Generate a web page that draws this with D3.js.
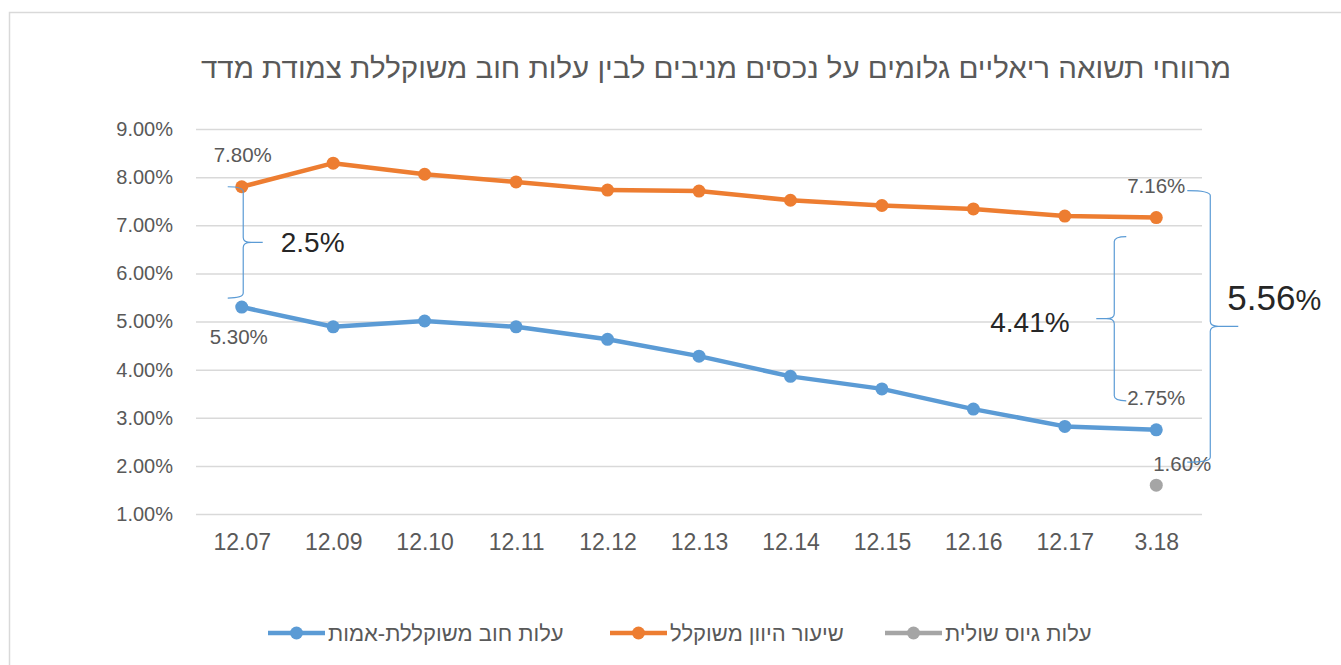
<!DOCTYPE html>
<html>
<head>
<meta charset="utf-8">
<script src="https://cdn.jsdelivr.net/npm/d3@7"></script>
<style>
  body { margin: 0; background: #fff; }
  text { font-family: "Liberation Sans", Arial, sans-serif; }
</style>
</head>
<body>
<div id="chart-area"></div>
<script>
var categories = ["12.07", "12.09", "12.10", "12.11", "12.12", "12.13", "12.14", "12.15", "12.16", "12.17", "3.18"];
var debtCost = [5.30, 4.89, 5.01, 4.89, 4.63, 4.28, 3.86, 3.60, 3.18, 2.82, 2.75];
var capRate = [7.80, 8.29, 8.06, 7.90, 7.73, 7.71, 7.52, 7.41, 7.34, 7.19, 7.16];
var marginalCat = ["3.18"];
var marginalCost = [1.60];
var yTicks = [1, 2, 3, 4, 5, 6, 7, 8, 9];
var seriesNames = ["עלות חוב משוקללת-אמות", "שיעור היוון משוקלל", "עלות גיוס שולית"];
var title = "מרווחי תשואה ריאליים גלומים על נכסים מניבים לבין עלות חוב משוקללת צמודת מדד";
var spreads = ["2.5", "4.41", "5.56"];

var width = 1341;
var height = 665;
var blue = "#5B9BD5", orange = "#ED7D31", grey = "#A5A5A5";
var textColor = "#595959";
var fmt = d3.format(".2f");

var svg = d3.select("#chart-area")
    .append("svg")
    .attr("width", width)
    .attr("height", height);

// chart frame
svg.append("rect")
    .attr("x", 9.5)
    .attr("y", 12.5)
    .attr("width", 1400)
    .attr("height", 700)
    .attr("fill", "#fff")
    .attr("stroke", "#d9d9d9")
    .attr("stroke-width", 1.5);

var x = d3.scalePoint()
    .domain(categories)
    .range([196, 1202])
    .padding(0.5);

var y = d3.scaleLinear()
    .domain([1, 9])
    .range([514, 129]);

svg.append("text")
    .attr("x", 716)
    .attr("y", 78)
    .attr("text-anchor", "middle")
    .attr("fill", textColor)
    .attr("textLength", 1030)
    .attr("lengthAdjust", "spacingAndGlyphs")
    .style("font-size", "28px")
    .text(title);

// y axis + gridlines
var yAxis = svg.append("g")
    .attr("transform", "translate(196,0)")
    .call(d3.axisLeft(y)
        .tickValues(yTicks)
        .tickFormat(function(d) { return fmt(d) + "%"; })
        .tickSizeInner(-(1202 - 196))
        .tickSizeOuter(0)
        .tickPadding(23));
yAxis.select(".domain").remove();
yAxis.selectAll(".tick line").attr("stroke", "#d9d9d9").attr("stroke-width", 1.5);
yAxis.selectAll(".tick text")
    .attr("fill", textColor)
    .style("font-size", "20px")
    .style("font-family", "'Liberation Sans', Arial, sans-serif");

// x axis
var xAxis = svg.append("g")
    .attr("transform", "translate(0,514)")
    .call(d3.axisBottom(x).tickSize(0).tickPadding(20));
xAxis.select(".domain").remove();
xAxis.selectAll(".tick text")
    .attr("fill", textColor)
    .style("font-size", "23px")
    .style("font-family", "'Liberation Sans', Arial, sans-serif");

var line = d3.line()
    .x(function(d, i) { return x(categories[i]); })
    .y(function(d) { return y(d); });

function drawSeries(values, color) {
    svg.append("path")
        .datum(values)
        .attr("d", line)
        .attr("fill", "none")
        .attr("stroke", color)
        .attr("stroke-width", 4.5)
        .attr("stroke-linejoin", "round");
    svg.selectAll(null)
        .data(values)
        .enter()
        .append("circle")
        .attr("cx", function(d, i) { return x(categories[i]); })
        .attr("cy", function(d) { return y(d); })
        .attr("r", 6.5)
        .attr("fill", color);
}
drawSeries(capRate, orange);
drawSeries(debtCost, blue);

svg.selectAll(null)
    .data(marginalCost)
    .enter()
    .append("circle")
    .attr("cx", function(d, i) { return x(marginalCat[i]); })
    .attr("cy", function(d) { return y(d); })
    .attr("r", 6.5)
    .attr("fill", grey);

// data labels
var last = categories.length - 1;
var labels = [
    { cat: categories[0], v: capRate[0], dx: 1, dy: -25 },
    { cat: categories[0], v: debtCost[0], dx: -3, dy: 37 },
    { cat: categories[last], v: capRate[last], dx: 0, dy: -25 },
    { cat: categories[last], v: debtCost[last], dx: 0, dy: -25 },
    { cat: marginalCat[0], v: marginalCost[0], dx: 26, dy: -14 }
];
svg.selectAll(null)
    .data(labels)
    .enter()
    .append("text")
    .attr("x", function(d) { return x(d.cat) + d.dx; })
    .attr("y", function(d) { return y(d.v) + d.dy; })
    .attr("text-anchor", "middle")
    .attr("fill", textColor)
    .style("font-size", "20.5px")
    .text(function(d) { return fmt(d.v) + "%"; });

// curly braces, tip points toward tipX
function brace(xLine, yTop, yBot, endX, tipX) {
    var dir = tipX > xLine ? 1 : -1;
    var mid = (yTop + yBot) / 2;
    var r = 5;
    var p = d3.path();
    p.moveTo(endX, yTop);
    p.quadraticCurveTo(xLine, yTop, xLine, yTop + r);
    p.lineTo(xLine, mid - r);
    p.quadraticCurveTo(xLine, mid, xLine + dir * 8, mid);
    p.lineTo(tipX, mid);
    p.moveTo(xLine + dir * 8, mid);
    p.quadraticCurveTo(xLine, mid, xLine, mid + r);
    p.lineTo(xLine, yBot - r);
    p.quadraticCurveTo(xLine, yBot, endX, yBot);
    svg.append("path")
        .attr("d", p.toString())
        .attr("fill", "none")
        .attr("stroke", blue)
        .attr("stroke-width", 1.2);
}
var x0 = x(categories[0]), xl = x(categories[last]);
brace(x0 + 1.5, y(capRate[0]), y(debtCost[0]) - 9, x0 - 14, x0 + 21);
brace(xl - 42, y(capRate[last]) + 19, y(debtCost[last]) - 29, xl - 30, xl - 60);
brace(xl + 54, y(capRate[last]) - 27, y(marginalCost[0]) - 23, xl + 31, xl + 82);

svg.append("text")
    .attr("x", x0 + 39)
    .attr("y", 252)
    .attr("fill", "#262626")
    .style("font-size", "28px")
    .text(spreads[0] + "%");

svg.append("text")
    .attr("x", xl - 166)
    .attr("y", 332)
    .attr("fill", "#262626")
    .style("font-size", "28px")
    .text(spreads[1] + "%");

var big = svg.append("text")
    .attr("x", xl + 71)
    .attr("y", 310)
    .attr("fill", "#262626")
    .style("font-size", "35px");
big.append("tspan").text(spreads[2]);
big.append("tspan").style("font-size", "29px").text("%");

// legend
var legendX = [268, 610, 885];
var legendColors = [blue, orange, grey];
var legend = svg.selectAll(".legend")
    .data(seriesNames)
    .enter()
    .append("g")
    .attr("class", "legend")
    .attr("transform", function(d, i) { return "translate(" + legendX[i] + ",633)"; });
legend.append("line")
    .attr("x1", 0)
    .attr("x2", 57)
    .attr("stroke", function(d, i) { return legendColors[i]; })
    .attr("stroke-width", 4.5);
legend.append("circle")
    .attr("cx", 28.5)
    .attr("r", 6.5)
    .attr("fill", function(d, i) { return legendColors[i]; });
legend.append("text")
    .attr("x", 60)
    .attr("y", 8)
    .attr("fill", textColor)
    .style("font-size", "22px")
    .text(function(d) { return d; });
</script>
</body>
</html>
